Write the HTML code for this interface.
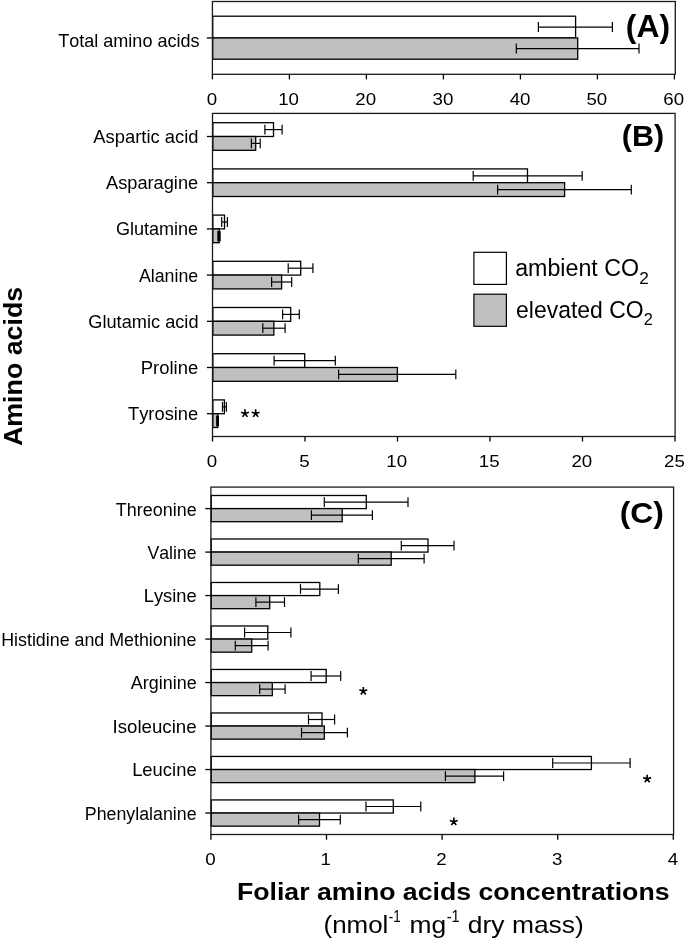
<!DOCTYPE html>
<html><head><meta charset="utf-8"><title>Foliar amino acids</title>
<style>
html,body{margin:0;padding:0;background:#fff;}
svg{display:block;will-change:transform;}
text{font-family:"Liberation Sans",sans-serif;fill:#000;font-kerning:none;}
</style></head>
<body>
<svg width="685" height="940" viewBox="0 0 685 940">
<rect x="0" y="0" width="685" height="940" fill="#fff"/>
<rect x="212.75" y="16.20" width="362.85" height="21.75" fill="#fff" stroke="#000" stroke-width="1.3"/>
<rect x="212.75" y="37.95" width="364.95" height="21.25" fill="#c0c0c0" stroke="#000" stroke-width="1.3"/>
<line x1="538.40" y1="27.08" x2="612.40" y2="27.08" stroke="#000" stroke-width="1.2"/>
<line x1="538.40" y1="22.08" x2="538.40" y2="32.08" stroke="#000" stroke-width="1.2"/>
<line x1="612.40" y1="22.08" x2="612.40" y2="32.08" stroke="#000" stroke-width="1.2"/>
<line x1="516.30" y1="48.58" x2="639.00" y2="48.58" stroke="#000" stroke-width="1.2"/>
<line x1="516.30" y1="43.58" x2="516.30" y2="53.58" stroke="#000" stroke-width="1.2"/>
<line x1="639.00" y1="43.58" x2="639.00" y2="53.58" stroke="#000" stroke-width="1.2"/>
<rect x="212.40" y="1.50" width="462.90" height="72.80" fill="none" stroke="#1c1c1c" stroke-width="1.3"/>
<line x1="206.80" y1="37.95" x2="212.40" y2="37.95" stroke="#000" stroke-width="1.3"/>
<line x1="212.40" y1="74.30" x2="212.40" y2="79.40" stroke="#000" stroke-width="1.3"/>
<text transform="translate(206.71,105.00) scale(1.1000,1)" font-size="17">0</text>
<line x1="289.40" y1="74.30" x2="289.40" y2="79.40" stroke="#000" stroke-width="1.3"/>
<text transform="translate(278.14,105.00) scale(1.1000,1)" font-size="17">10</text>
<line x1="366.40" y1="74.30" x2="366.40" y2="79.40" stroke="#000" stroke-width="1.3"/>
<text transform="translate(355.37,105.00) scale(1.1000,1)" font-size="17">20</text>
<line x1="443.40" y1="74.30" x2="443.40" y2="79.40" stroke="#000" stroke-width="1.3"/>
<text transform="translate(432.51,105.00) scale(1.1000,1)" font-size="17">30</text>
<line x1="520.40" y1="74.30" x2="520.40" y2="79.40" stroke="#000" stroke-width="1.3"/>
<text transform="translate(509.65,105.00) scale(1.1000,1)" font-size="17">40</text>
<line x1="597.40" y1="74.30" x2="597.40" y2="79.40" stroke="#000" stroke-width="1.3"/>
<text transform="translate(586.46,105.00) scale(1.1000,1)" font-size="17">50</text>
<line x1="674.40" y1="74.30" x2="674.40" y2="79.40" stroke="#000" stroke-width="1.3"/>
<text transform="translate(663.37,105.00) scale(1.1000,1)" font-size="17">60</text>
<rect x="212.85" y="122.70" width="60.65" height="13.80" fill="#fff" stroke="#000" stroke-width="1.3"/>
<rect x="212.85" y="136.50" width="42.85" height="13.80" fill="#c0c0c0" stroke="#000" stroke-width="1.3"/>
<rect x="212.85" y="168.90" width="314.65" height="13.80" fill="#fff" stroke="#000" stroke-width="1.3"/>
<rect x="212.85" y="182.70" width="351.75" height="13.80" fill="#c0c0c0" stroke="#000" stroke-width="1.3"/>
<rect x="212.85" y="215.10" width="11.65" height="13.80" fill="#fff" stroke="#000" stroke-width="1.3"/>
<rect x="212.85" y="228.90" width="6.35" height="13.80" fill="#c0c0c0" stroke="#000" stroke-width="1.3"/>
<rect x="212.85" y="261.30" width="87.85" height="13.80" fill="#fff" stroke="#000" stroke-width="1.3"/>
<rect x="212.85" y="275.10" width="68.75" height="13.80" fill="#c0c0c0" stroke="#000" stroke-width="1.3"/>
<rect x="212.85" y="307.50" width="77.85" height="13.80" fill="#fff" stroke="#000" stroke-width="1.3"/>
<rect x="212.85" y="321.30" width="61.00" height="13.80" fill="#c0c0c0" stroke="#000" stroke-width="1.3"/>
<rect x="212.85" y="353.70" width="91.85" height="13.80" fill="#fff" stroke="#000" stroke-width="1.3"/>
<rect x="212.85" y="367.50" width="184.55" height="13.80" fill="#c0c0c0" stroke="#000" stroke-width="1.3"/>
<rect x="212.85" y="399.90" width="11.55" height="13.80" fill="#fff" stroke="#000" stroke-width="1.3"/>
<rect x="212.85" y="413.70" width="4.95" height="13.80" fill="#c0c0c0" stroke="#000" stroke-width="1.3"/>
<line x1="264.90" y1="129.60" x2="282.10" y2="129.60" stroke="#000" stroke-width="1.2"/>
<line x1="264.90" y1="124.70" x2="264.90" y2="134.50" stroke="#000" stroke-width="1.2"/>
<line x1="282.10" y1="124.70" x2="282.10" y2="134.50" stroke="#000" stroke-width="1.2"/>
<line x1="251.40" y1="143.40" x2="260.20" y2="143.40" stroke="#000" stroke-width="1.2"/>
<line x1="251.40" y1="138.50" x2="251.40" y2="148.30" stroke="#000" stroke-width="1.2"/>
<line x1="260.20" y1="138.50" x2="260.20" y2="148.30" stroke="#000" stroke-width="1.2"/>
<line x1="473.20" y1="175.80" x2="582.20" y2="175.80" stroke="#000" stroke-width="1.2"/>
<line x1="473.20" y1="170.90" x2="473.20" y2="180.70" stroke="#000" stroke-width="1.2"/>
<line x1="582.20" y1="170.90" x2="582.20" y2="180.70" stroke="#000" stroke-width="1.2"/>
<line x1="497.60" y1="189.60" x2="631.30" y2="189.60" stroke="#000" stroke-width="1.2"/>
<line x1="497.60" y1="184.70" x2="497.60" y2="194.50" stroke="#000" stroke-width="1.2"/>
<line x1="631.30" y1="184.70" x2="631.30" y2="194.50" stroke="#000" stroke-width="1.2"/>
<line x1="221.70" y1="222.00" x2="227.40" y2="222.00" stroke="#000" stroke-width="1.2"/>
<line x1="221.70" y1="217.10" x2="221.70" y2="226.90" stroke="#000" stroke-width="1.2"/>
<line x1="227.40" y1="217.10" x2="227.40" y2="226.90" stroke="#000" stroke-width="1.2"/>
<line x1="288.20" y1="268.20" x2="312.90" y2="268.20" stroke="#000" stroke-width="1.2"/>
<line x1="288.20" y1="263.30" x2="288.20" y2="273.10" stroke="#000" stroke-width="1.2"/>
<line x1="312.90" y1="263.30" x2="312.90" y2="273.10" stroke="#000" stroke-width="1.2"/>
<line x1="271.60" y1="282.00" x2="291.70" y2="282.00" stroke="#000" stroke-width="1.2"/>
<line x1="271.60" y1="277.10" x2="271.60" y2="286.90" stroke="#000" stroke-width="1.2"/>
<line x1="291.70" y1="277.10" x2="291.70" y2="286.90" stroke="#000" stroke-width="1.2"/>
<line x1="282.60" y1="314.40" x2="299.30" y2="314.40" stroke="#000" stroke-width="1.2"/>
<line x1="282.60" y1="309.50" x2="282.60" y2="319.30" stroke="#000" stroke-width="1.2"/>
<line x1="299.30" y1="309.50" x2="299.30" y2="319.30" stroke="#000" stroke-width="1.2"/>
<line x1="262.80" y1="328.20" x2="285.10" y2="328.20" stroke="#000" stroke-width="1.2"/>
<line x1="262.80" y1="323.30" x2="262.80" y2="333.10" stroke="#000" stroke-width="1.2"/>
<line x1="285.10" y1="323.30" x2="285.10" y2="333.10" stroke="#000" stroke-width="1.2"/>
<line x1="274.10" y1="360.60" x2="335.30" y2="360.60" stroke="#000" stroke-width="1.2"/>
<line x1="274.10" y1="355.70" x2="274.10" y2="365.50" stroke="#000" stroke-width="1.2"/>
<line x1="335.30" y1="355.70" x2="335.30" y2="365.50" stroke="#000" stroke-width="1.2"/>
<line x1="338.60" y1="374.40" x2="455.80" y2="374.40" stroke="#000" stroke-width="1.2"/>
<line x1="338.60" y1="369.50" x2="338.60" y2="379.30" stroke="#000" stroke-width="1.2"/>
<line x1="455.80" y1="369.50" x2="455.80" y2="379.30" stroke="#000" stroke-width="1.2"/>
<line x1="222.50" y1="406.80" x2="226.40" y2="406.80" stroke="#000" stroke-width="1.2"/>
<line x1="222.50" y1="401.90" x2="222.50" y2="411.70" stroke="#000" stroke-width="1.2"/>
<line x1="226.40" y1="401.90" x2="226.40" y2="411.70" stroke="#000" stroke-width="1.2"/>
<rect x="212.50" y="113.40" width="462.60" height="323.10" fill="none" stroke="#1c1c1c" stroke-width="1.3"/>
<line x1="206.90" y1="136.50" x2="212.50" y2="136.50" stroke="#000" stroke-width="1.3"/>
<line x1="206.90" y1="182.70" x2="212.50" y2="182.70" stroke="#000" stroke-width="1.3"/>
<line x1="206.90" y1="228.90" x2="212.50" y2="228.90" stroke="#000" stroke-width="1.3"/>
<line x1="206.90" y1="275.10" x2="212.50" y2="275.10" stroke="#000" stroke-width="1.3"/>
<line x1="206.90" y1="321.30" x2="212.50" y2="321.30" stroke="#000" stroke-width="1.3"/>
<line x1="206.90" y1="367.50" x2="212.50" y2="367.50" stroke="#000" stroke-width="1.3"/>
<line x1="206.90" y1="413.70" x2="212.50" y2="413.70" stroke="#000" stroke-width="1.3"/>
<line x1="212.50" y1="436.50" x2="212.50" y2="441.50" stroke="#000" stroke-width="1.3"/>
<text transform="translate(206.81,467.40) scale(1.1000,1)" font-size="17">0</text>
<line x1="305.00" y1="436.50" x2="305.00" y2="441.50" stroke="#000" stroke-width="1.3"/>
<text transform="translate(299.31,467.40) scale(1.1000,1)" font-size="17">5</text>
<line x1="397.50" y1="436.50" x2="397.50" y2="441.50" stroke="#000" stroke-width="1.3"/>
<text transform="translate(386.24,467.40) scale(1.1000,1)" font-size="17">10</text>
<line x1="490.00" y1="436.50" x2="490.00" y2="441.50" stroke="#000" stroke-width="1.3"/>
<text transform="translate(478.78,467.40) scale(1.1000,1)" font-size="17">15</text>
<line x1="582.50" y1="436.50" x2="582.50" y2="441.50" stroke="#000" stroke-width="1.3"/>
<text transform="translate(571.47,467.40) scale(1.1000,1)" font-size="17">20</text>
<line x1="675.00" y1="436.50" x2="675.00" y2="441.50" stroke="#000" stroke-width="1.3"/>
<text transform="translate(664.02,467.40) scale(1.1000,1)" font-size="17">25</text>
<rect x="217.3" y="231.00" width="3.4" height="10.4" fill="#000"/>
<rect x="216.1" y="415.70" width="2.9" height="10.6" fill="#000"/>
<rect x="211.25" y="495.50" width="155.05" height="13.10" fill="#fff" stroke="#000" stroke-width="1.3"/>
<rect x="211.25" y="508.60" width="130.95" height="13.10" fill="#c0c0c0" stroke="#000" stroke-width="1.3"/>
<rect x="211.25" y="538.99" width="216.75" height="13.10" fill="#fff" stroke="#000" stroke-width="1.3"/>
<rect x="211.25" y="552.09" width="179.95" height="13.10" fill="#c0c0c0" stroke="#000" stroke-width="1.3"/>
<rect x="211.25" y="582.48" width="108.55" height="13.10" fill="#fff" stroke="#000" stroke-width="1.3"/>
<rect x="211.25" y="595.58" width="58.45" height="13.10" fill="#c0c0c0" stroke="#000" stroke-width="1.3"/>
<rect x="211.25" y="625.97" width="56.55" height="13.10" fill="#fff" stroke="#000" stroke-width="1.3"/>
<rect x="211.25" y="639.07" width="40.45" height="13.10" fill="#c0c0c0" stroke="#000" stroke-width="1.3"/>
<rect x="211.25" y="669.46" width="114.95" height="13.10" fill="#fff" stroke="#000" stroke-width="1.3"/>
<rect x="211.25" y="682.56" width="61.05" height="13.10" fill="#c0c0c0" stroke="#000" stroke-width="1.3"/>
<rect x="211.25" y="712.95" width="110.75" height="13.10" fill="#fff" stroke="#000" stroke-width="1.3"/>
<rect x="211.25" y="726.05" width="113.05" height="13.10" fill="#c0c0c0" stroke="#000" stroke-width="1.3"/>
<rect x="211.25" y="756.44" width="380.15" height="13.10" fill="#fff" stroke="#000" stroke-width="1.3"/>
<rect x="211.25" y="769.54" width="263.65" height="13.10" fill="#c0c0c0" stroke="#000" stroke-width="1.3"/>
<rect x="211.25" y="799.93" width="182.05" height="13.10" fill="#fff" stroke="#000" stroke-width="1.3"/>
<rect x="211.25" y="813.03" width="108.25" height="13.10" fill="#c0c0c0" stroke="#000" stroke-width="1.3"/>
<line x1="324.30" y1="502.05" x2="408.00" y2="502.05" stroke="#000" stroke-width="1.2"/>
<line x1="324.30" y1="497.15" x2="324.30" y2="506.95" stroke="#000" stroke-width="1.2"/>
<line x1="408.00" y1="497.15" x2="408.00" y2="506.95" stroke="#000" stroke-width="1.2"/>
<line x1="311.40" y1="515.15" x2="372.40" y2="515.15" stroke="#000" stroke-width="1.2"/>
<line x1="311.40" y1="510.25" x2="311.40" y2="520.05" stroke="#000" stroke-width="1.2"/>
<line x1="372.40" y1="510.25" x2="372.40" y2="520.05" stroke="#000" stroke-width="1.2"/>
<line x1="401.30" y1="545.54" x2="454.00" y2="545.54" stroke="#000" stroke-width="1.2"/>
<line x1="401.30" y1="540.64" x2="401.30" y2="550.44" stroke="#000" stroke-width="1.2"/>
<line x1="454.00" y1="540.64" x2="454.00" y2="550.44" stroke="#000" stroke-width="1.2"/>
<line x1="358.30" y1="558.64" x2="424.10" y2="558.64" stroke="#000" stroke-width="1.2"/>
<line x1="358.30" y1="553.74" x2="358.30" y2="563.54" stroke="#000" stroke-width="1.2"/>
<line x1="424.10" y1="553.74" x2="424.10" y2="563.54" stroke="#000" stroke-width="1.2"/>
<line x1="300.50" y1="589.03" x2="338.40" y2="589.03" stroke="#000" stroke-width="1.2"/>
<line x1="300.50" y1="584.13" x2="300.50" y2="593.93" stroke="#000" stroke-width="1.2"/>
<line x1="338.40" y1="584.13" x2="338.40" y2="593.93" stroke="#000" stroke-width="1.2"/>
<line x1="255.90" y1="602.13" x2="284.50" y2="602.13" stroke="#000" stroke-width="1.2"/>
<line x1="255.90" y1="597.23" x2="255.90" y2="607.03" stroke="#000" stroke-width="1.2"/>
<line x1="284.50" y1="597.23" x2="284.50" y2="607.03" stroke="#000" stroke-width="1.2"/>
<line x1="244.60" y1="632.52" x2="290.90" y2="632.52" stroke="#000" stroke-width="1.2"/>
<line x1="244.60" y1="627.62" x2="244.60" y2="637.42" stroke="#000" stroke-width="1.2"/>
<line x1="290.90" y1="627.62" x2="290.90" y2="637.42" stroke="#000" stroke-width="1.2"/>
<line x1="235.30" y1="645.62" x2="268.10" y2="645.62" stroke="#000" stroke-width="1.2"/>
<line x1="235.30" y1="640.72" x2="235.30" y2="650.52" stroke="#000" stroke-width="1.2"/>
<line x1="268.10" y1="640.72" x2="268.10" y2="650.52" stroke="#000" stroke-width="1.2"/>
<line x1="311.10" y1="676.01" x2="340.70" y2="676.01" stroke="#000" stroke-width="1.2"/>
<line x1="311.10" y1="671.11" x2="311.10" y2="680.91" stroke="#000" stroke-width="1.2"/>
<line x1="340.70" y1="671.11" x2="340.70" y2="680.91" stroke="#000" stroke-width="1.2"/>
<line x1="259.70" y1="689.11" x2="285.10" y2="689.11" stroke="#000" stroke-width="1.2"/>
<line x1="259.70" y1="684.21" x2="259.70" y2="694.01" stroke="#000" stroke-width="1.2"/>
<line x1="285.10" y1="684.21" x2="285.10" y2="694.01" stroke="#000" stroke-width="1.2"/>
<line x1="308.50" y1="719.50" x2="334.60" y2="719.50" stroke="#000" stroke-width="1.2"/>
<line x1="308.50" y1="714.60" x2="308.50" y2="724.40" stroke="#000" stroke-width="1.2"/>
<line x1="334.60" y1="714.60" x2="334.60" y2="724.40" stroke="#000" stroke-width="1.2"/>
<line x1="301.50" y1="732.60" x2="347.40" y2="732.60" stroke="#000" stroke-width="1.2"/>
<line x1="301.50" y1="727.70" x2="301.50" y2="737.50" stroke="#000" stroke-width="1.2"/>
<line x1="347.40" y1="727.70" x2="347.40" y2="737.50" stroke="#000" stroke-width="1.2"/>
<line x1="552.70" y1="762.99" x2="630.10" y2="762.99" stroke="#000" stroke-width="1.2"/>
<line x1="552.70" y1="758.09" x2="552.70" y2="767.89" stroke="#000" stroke-width="1.2"/>
<line x1="630.10" y1="758.09" x2="630.10" y2="767.89" stroke="#000" stroke-width="1.2"/>
<line x1="445.40" y1="776.09" x2="503.60" y2="776.09" stroke="#000" stroke-width="1.2"/>
<line x1="445.40" y1="771.19" x2="445.40" y2="780.99" stroke="#000" stroke-width="1.2"/>
<line x1="503.60" y1="771.19" x2="503.60" y2="780.99" stroke="#000" stroke-width="1.2"/>
<line x1="366.00" y1="806.48" x2="420.80" y2="806.48" stroke="#000" stroke-width="1.2"/>
<line x1="366.00" y1="801.58" x2="366.00" y2="811.38" stroke="#000" stroke-width="1.2"/>
<line x1="420.80" y1="801.58" x2="420.80" y2="811.38" stroke="#000" stroke-width="1.2"/>
<line x1="298.60" y1="819.58" x2="340.30" y2="819.58" stroke="#000" stroke-width="1.2"/>
<line x1="298.60" y1="814.68" x2="298.60" y2="824.48" stroke="#000" stroke-width="1.2"/>
<line x1="340.30" y1="814.68" x2="340.30" y2="824.48" stroke="#000" stroke-width="1.2"/>
<rect x="210.90" y="487.10" width="462.70" height="347.40" fill="none" stroke="#1c1c1c" stroke-width="1.3"/>
<line x1="205.30" y1="508.60" x2="210.90" y2="508.60" stroke="#000" stroke-width="1.3"/>
<line x1="205.30" y1="552.09" x2="210.90" y2="552.09" stroke="#000" stroke-width="1.3"/>
<line x1="205.30" y1="595.58" x2="210.90" y2="595.58" stroke="#000" stroke-width="1.3"/>
<line x1="205.30" y1="639.07" x2="210.90" y2="639.07" stroke="#000" stroke-width="1.3"/>
<line x1="205.30" y1="682.56" x2="210.90" y2="682.56" stroke="#000" stroke-width="1.3"/>
<line x1="205.30" y1="726.05" x2="210.90" y2="726.05" stroke="#000" stroke-width="1.3"/>
<line x1="205.30" y1="769.54" x2="210.90" y2="769.54" stroke="#000" stroke-width="1.3"/>
<line x1="205.30" y1="813.03" x2="210.90" y2="813.03" stroke="#000" stroke-width="1.3"/>
<line x1="210.90" y1="834.50" x2="210.90" y2="839.70" stroke="#000" stroke-width="1.3"/>
<text transform="translate(205.21,865.20) scale(1.1000,1)" font-size="17">0</text>
<line x1="326.50" y1="834.50" x2="326.50" y2="839.70" stroke="#000" stroke-width="1.3"/>
<text transform="translate(320.53,865.20) scale(1.1000,1)" font-size="17">1</text>
<line x1="442.10" y1="834.50" x2="442.10" y2="839.70" stroke="#000" stroke-width="1.3"/>
<text transform="translate(436.36,865.20) scale(1.1000,1)" font-size="17">2</text>
<line x1="557.70" y1="834.50" x2="557.70" y2="839.70" stroke="#000" stroke-width="1.3"/>
<text transform="translate(552.06,865.20) scale(1.1000,1)" font-size="17">3</text>
<line x1="673.30" y1="834.50" x2="673.30" y2="839.70" stroke="#000" stroke-width="1.3"/>
<text transform="translate(667.66,865.20) scale(1.1000,1)" font-size="17">4</text>
<text transform="translate(58.14,46.90) scale(1.0038,1)" font-size="18">Total amino acids</text>
<text transform="translate(93.30,143.00) scale(1.0514,1)" font-size="17.5">Aspartic acid</text>
<text transform="translate(106.00,189.20) scale(1.0420,1)" font-size="17.5">Asparagine</text>
<text transform="translate(115.90,235.40) scale(1.0325,1)" font-size="17.5">Glutamine</text>
<text transform="translate(138.90,281.60) scale(1.0163,1)" font-size="17.5">Alanine</text>
<text transform="translate(88.29,327.80) scale(1.0407,1)" font-size="17.5">Glutamic acid</text>
<text transform="translate(140.82,374.00) scale(1.0544,1)" font-size="17.5">Proline</text>
<text transform="translate(128.03,420.20) scale(1.0464,1)" font-size="17.5">Tyrosine</text>
<text transform="translate(115.84,515.50) scale(0.9968,1)" font-size="18">Threonine</text>
<text transform="translate(147.50,558.99) scale(0.9818,1)" font-size="18">Valine</text>
<text transform="translate(143.74,602.48) scale(1.0170,1)" font-size="18">Lysine</text>
<text transform="translate(1.17,645.97) scale(0.9916,1)" font-size="18">Histidine and Methionine</text>
<text transform="translate(130.80,689.46) scale(0.9969,1)" font-size="18">Arginine</text>
<text transform="translate(112.52,732.95) scale(1.0382,1)" font-size="18">Isoleucine</text>
<text transform="translate(132.13,776.44) scale(1.0235,1)" font-size="18">Leucine</text>
<text transform="translate(84.78,819.93) scale(0.9891,1)" font-size="18">Phenylalanine</text>
<text transform="translate(625.87,36.50) scale(1.0455,1)" font-size="30.5" font-weight="bold">(A)</text>
<text transform="translate(621.82,146.10) scale(1.0364,1)" font-size="29.5" font-weight="bold">(B)</text>
<text transform="translate(619.67,523.00) scale(1.0629,1)" font-size="30" font-weight="bold">(C)</text>
<rect x="473.90" y="252.30" width="32.50" height="32.10" fill="#fff" stroke="#000" stroke-width="1.2"/>
<rect x="473.90" y="294.20" width="32.50" height="32.10" fill="#c0c0c0" stroke="#000" stroke-width="1.2"/>
<text transform="translate(515.17,276.30) scale(0.9893,1)" font-size="23.5">ambient CO</text>
<text transform="translate(639.34,283.50) scale(1.0734,1)" font-size="16">2</text>
<text transform="translate(516.08,317.50) scale(0.9762,1)" font-size="23.5">elevated CO</text>
<text transform="translate(643.78,325.20) scale(1.0190,1)" font-size="16">2</text>
<path d="M244.95,413.50L244.95,409.35M244.95,413.50L248.90,412.22M244.95,413.50L247.39,416.86M244.95,413.50L242.51,416.86M244.95,413.50L241.00,412.22" stroke="#000" stroke-width="1.65" fill="none"/>
<circle cx="244.95" cy="413.50" r="1.15" fill="#000"/>
<path d="M255.65,413.50L255.65,409.35M255.65,413.50L259.60,412.22M255.65,413.50L258.09,416.86M255.65,413.50L253.21,416.86M255.65,413.50L251.70,412.22" stroke="#000" stroke-width="1.65" fill="none"/>
<circle cx="255.65" cy="413.50" r="1.15" fill="#000"/>
<path d="M363.30,691.10L363.30,686.95M363.30,691.10L367.25,689.82M363.30,691.10L365.74,694.46M363.30,691.10L360.86,694.46M363.30,691.10L359.35,689.82" stroke="#000" stroke-width="1.65" fill="none"/>
<circle cx="363.30" cy="691.10" r="1.15" fill="#000"/>
<path d="M647.20,778.90L647.20,774.75M647.20,778.90L651.15,777.62M647.20,778.90L649.64,782.26M647.20,778.90L644.76,782.26M647.20,778.90L643.25,777.62" stroke="#000" stroke-width="1.65" fill="none"/>
<circle cx="647.20" cy="778.90" r="1.15" fill="#000"/>
<path d="M453.80,821.70L453.80,817.55M453.80,821.70L457.75,820.42M453.80,821.70L456.24,825.06M453.80,821.70L451.36,825.06M453.80,821.70L449.85,820.42" stroke="#000" stroke-width="1.65" fill="none"/>
<circle cx="453.80" cy="821.70" r="1.15" fill="#000"/>
<text transform="translate(236.97,900.00) scale(1.1594,1)" font-size="23" font-weight="bold">Foliar amino acids concentrations</text>
<text transform="translate(323.54,932.50) scale(1.0809,1)" font-size="24">(nmol</text>
<text transform="translate(388.66,922.00) scale(0.8406,1)" font-size="16">-1</text>
<text transform="translate(409.48,932.50) scale(1.1019,1)" font-size="24">mg</text>
<text transform="translate(446.72,922.00) scale(0.9106,1)" font-size="16">-1</text>
<text transform="translate(467.84,932.50) scale(1.1011,1)" font-size="24">dry mass)</text>
<text transform="translate(21.90,446.04) rotate(-90) scale(1.0305,1)" font-size="26" font-weight="bold">Amino acids</text>
</svg>
</body></html>
